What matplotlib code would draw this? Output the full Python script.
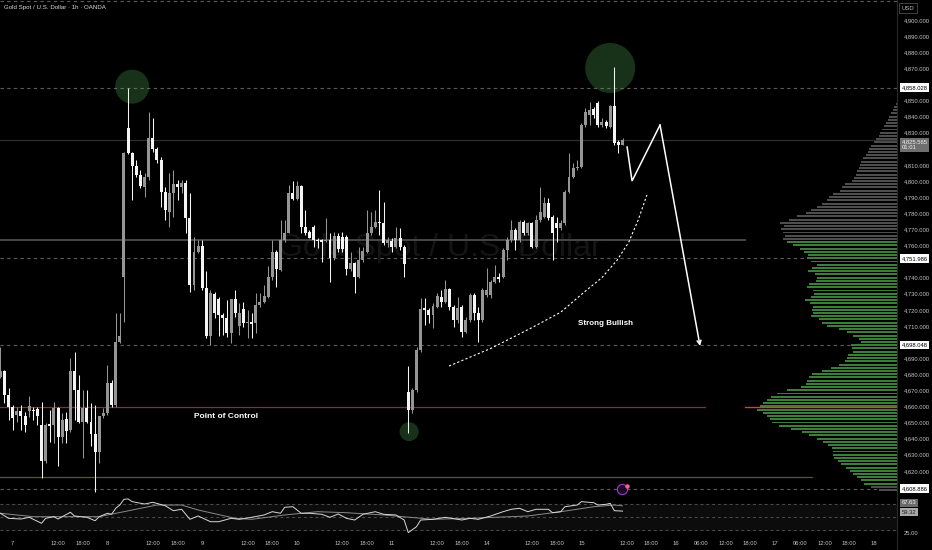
import numpy as np
import matplotlib
matplotlib.use('Agg')
import matplotlib.pyplot as plt
import matplotlib.transforms as mtransforms
from matplotlib.lines import Line2D

plt.rcParams['font.family'] = ['Liberation Sans', 'DejaVu Sans']

# ---------------- data ----------------
first_bar = -3   # bar index of first candle (index 0 = day 7, 00:00)
opens = [
    4678.5, 4681.7, 4667.2, 4659.9, 4654.7, 4657.4, 4654.1, 4657.2, 4657.8, 4658.3,
    4648.5, 4625.8, 4649.2, 4648.5, 4658.9, 4641.3, 4652.1, 4645.4, 4681.7, 4669.9,
    4650.6, 4658.9, 4650.6, 4642.9, 4631.4, 4654.1, 4656.2, 4674.8, 4661.0, 4699.7,
    4740.6, 4832.8, 4817.2, 4809.4, 4803.8, 4796.5, 4802.7, 4826.6, 4819.7, 4813.1,
    4793.4, 4781.0, 4792.4, 4798.2, 4796.5, 4798.6, 4776.9, 4735.5, 4756.2, 4759.7,
    4733.4, 4703.8, 4729.9, 4726.6, 4716.8, 4714.8, 4705.9, 4726.6, 4710.0, 4720.4,
    4711.7, 4712.7, 4711.7, 4723.1, 4725.1, 4728.2, 4740.2, 4756.2, 4744.8, 4763.4,
    4768.0, 4792.4, 4788.7, 4797.0, 4771.3, 4768.6, 4771.7, 4763.4, 4763.4, 4763.0,
    4763.4, 4752.0, 4765.9, 4765.5, 4765.5, 4745.2, 4748.9, 4740.2, 4751.0, 4756.2,
    4767.6, 4771.3, 4774.8, 4774.2, 4761.8, 4763.0, 4758.9, 4764.5, 4759.3, 4669.2,
    4657.8, 4670.3, 4695.1, 4721.0, 4719.9, 4716.8, 4722.0, 4728.2, 4725.1, 4732.8,
    4722.0, 4713.7, 4722.0, 4706.5, 4713.7, 4729.3, 4717.9, 4713.7, 4729.3, 4729.3,
    4737.5, 4740.6, 4740.6, 4757.2, 4763.4, 4769.6, 4763.4, 4774.8, 4767.6, 4773.8,
    4759.3, 4775.8, 4777.9, 4786.2, 4777.9, 4773.8, 4770.7, 4773.8, 4793.4, 4802.7,
    4807.9, 4809.0, 4834.8, 4841.0, 4844.6, 4848.7, 4834.8, 4836.9, 4833.8, 4846.6,
    4824.5, 4822.4]
highs = [
    4697.2, 4682.7, 4671.3, 4661.0, 4659.9, 4661.0, 4656.8, 4666.5, 4659.9, 4659.9,
    4663.0, 4649.6, 4657.8, 4663.0, 4659.9, 4655.8, 4656.8, 4689.9, 4694.1, 4679.6,
    4670.3, 4670.3, 4662.0, 4661.0, 4654.1, 4658.9, 4685.8, 4676.5, 4717.9, 4717.9,
    4818.3, 4857.6, 4818.3, 4813.1, 4806.9, 4804.8, 4843.1, 4839.0, 4821.4, 4815.2,
    4796.5, 4804.8, 4806.9, 4800.7, 4800.7, 4800.7, 4792.4, 4765.5, 4763.4, 4763.4,
    4743.8, 4732.4, 4731.3, 4728.2, 4717.9, 4726.2, 4726.6, 4732.4, 4724.1, 4725.1,
    4719.9, 4717.9, 4730.3, 4730.3, 4735.5, 4746.9, 4763.4, 4757.2, 4775.8, 4775.8,
    4797.6, 4800.3, 4800.3, 4797.6, 4782.0, 4769.6, 4772.7, 4764.5, 4763.8, 4776.9,
    4767.6, 4768.6, 4767.6, 4768.6, 4766.5, 4756.2, 4750.0, 4759.3, 4759.3, 4782.0,
    4781.0, 4782.0, 4794.5, 4787.2, 4765.5, 4764.5, 4771.7, 4770.7, 4760.3, 4684.8,
    4671.3, 4697.2, 4727.2, 4727.2, 4721.0, 4724.1, 4730.3, 4732.4, 4738.6, 4733.4,
    4723.1, 4728.2, 4723.1, 4715.8, 4730.3, 4730.3, 4722.0, 4733.4, 4745.8, 4738.6,
    4747.9, 4742.7, 4758.2, 4765.5, 4775.8, 4770.7, 4775.8, 4775.8, 4774.8, 4774.8,
    4778.9, 4796.5, 4790.3, 4789.3, 4778.9, 4777.9, 4775.8, 4794.5, 4817.2, 4811.0,
    4813.1, 4835.9, 4845.2, 4849.3, 4846.2, 4849.7, 4839.0, 4837.9, 4847.3, 4871.1,
    4825.5, 4826.6]
lows = [
    4677.5, 4662.0, 4651.6, 4645.4, 4650.6, 4645.4, 4644.4, 4653.7, 4651.6, 4648.5,
    4615.4, 4624.7, 4638.2, 4637.1, 4622.7, 4637.1, 4637.1, 4644.4, 4651.6, 4649.6,
    4627.8, 4649.6, 4635.1, 4607.1, 4624.7, 4652.7, 4654.7, 4659.9, 4659.9, 4699.2,
    4712.7, 4816.8, 4788.3, 4802.7, 4795.5, 4790.3, 4800.7, 4818.3, 4811.0, 4784.1,
    4775.8, 4771.7, 4777.9, 4788.3, 4792.4, 4767.6, 4731.3, 4732.4, 4755.1, 4732.4,
    4702.4, 4698.2, 4714.8, 4703.8, 4704.4, 4703.4, 4699.2, 4715.8, 4704.4, 4709.6,
    4702.4, 4702.4, 4705.5, 4722.0, 4724.1, 4727.2, 4738.6, 4734.4, 4743.8, 4762.4,
    4767.6, 4788.3, 4788.3, 4767.6, 4766.5, 4764.5, 4759.3, 4758.2, 4750.0, 4762.4,
    4737.5, 4751.0, 4756.2, 4756.2, 4741.7, 4744.4, 4730.3, 4739.6, 4750.0, 4755.1,
    4766.5, 4770.7, 4766.5, 4760.3, 4759.3, 4756.2, 4758.2, 4757.2, 4740.6, 4643.4,
    4655.8, 4669.2, 4694.1, 4710.6, 4711.7, 4708.6, 4721.0, 4722.0, 4724.1, 4719.9,
    4709.6, 4711.7, 4703.4, 4705.5, 4712.7, 4713.7, 4700.3, 4712.7, 4728.2, 4727.2,
    4736.5, 4737.5, 4739.6, 4751.0, 4762.4, 4757.2, 4762.4, 4766.5, 4766.5, 4758.2,
    4758.2, 4774.8, 4776.9, 4775.8, 4751.0, 4762.4, 4769.6, 4772.7, 4792.4, 4801.7,
    4806.9, 4807.9, 4833.8, 4834.8, 4839.0, 4833.8, 4833.8, 4832.8, 4832.8, 4822.4,
    4817.2, 4822.4]
closes = [
    4681.7, 4667.2, 4659.9, 4652.7, 4657.4, 4654.1, 4648.5, 4660.5, 4657.2, 4654.1,
    4625.8, 4648.5, 4647.9, 4658.9, 4641.3, 4651.6, 4645.0, 4681.7, 4670.3, 4650.6,
    4658.9, 4650.6, 4642.9, 4631.4, 4654.1, 4656.2, 4674.8, 4661.0, 4699.7, 4703.8,
    4817.2, 4817.7, 4809.4, 4803.8, 4797.0, 4802.7, 4826.6, 4819.7, 4813.1, 4793.4,
    4782.0, 4792.4, 4798.2, 4796.5, 4798.6, 4776.9, 4735.5, 4756.2, 4759.7, 4733.4,
    4703.8, 4730.3, 4717.9, 4716.8, 4714.8, 4705.9, 4726.6, 4717.9, 4718.3, 4711.7,
    4712.7, 4711.3, 4723.1, 4725.1, 4728.6, 4740.2, 4756.2, 4745.2, 4763.4, 4768.0,
    4792.4, 4788.7, 4797.0, 4771.3, 4767.6, 4764.5, 4763.4, 4762.8, 4762.4, 4763.4,
    4752.0, 4765.9, 4757.6, 4757.6, 4745.2, 4748.9, 4740.2, 4751.0, 4756.6, 4767.6,
    4771.3, 4774.8, 4773.8, 4761.3, 4763.4, 4758.9, 4764.5, 4758.9, 4748.5, 4657.8,
    4670.3, 4695.1, 4720.4, 4719.9, 4716.8, 4722.4, 4728.6, 4725.1, 4732.8, 4722.0,
    4713.7, 4721.0, 4706.5, 4713.7, 4729.3, 4717.9, 4713.7, 4732.4, 4732.4, 4737.5,
    4740.6, 4739.0, 4757.2, 4763.4, 4769.6, 4763.4, 4774.8, 4767.6, 4773.8, 4759.3,
    4775.8, 4781.0, 4786.2, 4776.9, 4767.6, 4770.7, 4773.8, 4793.4, 4802.7, 4807.9,
    4809.0, 4834.8, 4843.1, 4844.1, 4841.0, 4834.8, 4836.9, 4834.2, 4846.6, 4823.4,
    4822.4, 4825.5]

rsi_idx = [-3, -1, 2, 4, 7, 8, 10, 11, 14, 15, 18, 20, 21, 23, 24, 25, 26, 27, 28, 29,
           32, 34, 37, 39, 41, 43, 45, 48, 50, 53, 55, 58, 61, 63, 65, 66, 68, 70, 72, 75,
           77, 79, 81, 83, 85, 88, 90, 93, 95, 96, 98, 99, 102, 105, 109, 111, 113, 116, 119, 121,
           123, 125, 127, 130, 131, 133, 134, 137, 138, 141, 142, 144, 145, 146, 148]
rsi_val = [55.9, 47.9, 46.8, 49.5, 40.0, 47.9, 50.5, 46.8, 57.5, 51.6, 49.5, 44.1, 50.5, 55.9, 54.3, 63.8, 69.0, 78.1, 78.6, 74.3,
           70.6, 73.3, 67.9, 60.0, 62.2, 46.3, 51.6, 42.5, 42.5, 47.9, 46.3, 49.5, 53.2, 58.4, 55.9, 65.4, 66.3, 55.9, 55.9, 54.3,
           49.5, 54.8, 47.9, 45.2, 54.3, 58.4, 54.3, 53.2, 45.2, 25.1, 34.6, 45.2, 46.3, 49.5, 45.2, 47.9, 46.3, 51.6, 58.4, 62.2,
           63.8, 58.4, 62.2, 62.2, 56.8, 58.4, 66.3, 69.0, 74.3, 72.7, 69.0, 70.1, 71.7, 60.0, 59.32]
rsi_ma_idx = [-3, 5, 21, 35, 41, 45, 54, 58, 66, 74, 81, 90, 102, 111, 117, 125, 133, 141, 146, 148]
rsi_ma_val = [55.9, 50.5, 50.5, 69.0, 69.0, 61.1, 47.9, 46.3, 53.2, 58.4, 56.8, 53.2, 46.3, 47.9, 49.5, 51.6, 58.4, 66.3, 69.0, 67.63]

# volume profile (row price -> relative volume)
vp_prices = list(range(4848, 4606, -2))
vp_volume = [
    1, 3, 4, 6, 8, 9, 11, 13, 15, 17,
    18, 21, 23, 26, 28, 29, 31, 34, 36, 37,
    38, 40, 41, 43, 45, 52, 55, 57, 64, 68,
    70, 75, 80, 86, 91, 100, 108, 117, 113, 116,
    114, 112, 114, 110, 104, 97, 93, 89, 90, 86,
    80, 85, 89, 82, 80, 81, 88, 90, 84, 83,
    86, 92, 87, 84, 85, 84, 86, 78, 75, 70,
    58, 50, 44, 38, 36, 46, 45, 44, 49, 50,
    52, 58, 66, 75, 85, 88, 90, 91, 96, 110,
    120, 126, 130, 134, 137, 140, 134, 130, 127, 125,
    118, 106, 95, 88, 80, 74, 69, 65, 64, 64,
    63, 59, 56, 51, 47, 44, 40, 36, 33, 26,
    18]
value_area = (4612, 4762)

# horizontal levels
dashed_levels = [4911.8, 4858.028, 4751.986, 4698.048, 4608.886]
last_price = 4825.565
range_high = 4763.4
poc_price = 4659.4
support_low = 4616.4

# projection drawing and arc (bar index, price)
proj_x = [149.1, 150.3, 157.1, 166.8]
proj_y = [4821.1, 4800.0, 4834.8, 4697.5]
arc_x = [105.9, 116.0, 126.3, 133.0, 138.4, 143.0, 146.7, 149.5, 151.8, 153.9]
arc_y = [4685.1, 4696.0, 4709.3, 4718.5, 4730.4, 4740.0, 4750.9, 4762.0, 4775.8, 4791.3]
circle_x = [29.0, 145.0, 96.2]
circle_y = [4858.6, 4870.2, 4644.3]
circle_diam_px = [34, 50, 19]

x_ticks = [0, 11, 17, 23, 34, 40, 46, 57, 63, 69, 80, 86, 92, 103, 109, 115, 126, 132,
           138, 149, 155, 161, 167, 173, 179, 185, 191, 197, 203, 209]
x_labels = ['7', '12:00', '18:00', '8', '12:00', '18:00', '9', '12:00', '18:00', '10',
            '12:00', '18:00', '11', '12:00', '18:00', '14', '12:00', '18:00', '15', '12:00',
            '18:00', '16', '06:00', '12:00', '18:00', '17', '06:00', '12:00', '18:00', '18']
price_ticks = [4900, 4890, 4880, 4870, 4850, 4840, 4830, 4810, 4800, 4790, 4780, 4770,
               4760, 4740, 4730, 4720, 4710, 4690, 4680, 4670, 4660, 4650, 4640, 4630, 4620]

# ---------------- figure ----------------
W, H = 932, 550
fig = plt.figure(figsize=(W / 100, H / 100), dpi=100, facecolor='black')
axr = 897 / W
ax = fig.add_axes([0, 1 - 496 / H, axr, 496 / H], facecolor='black')
rx = fig.add_axes([0, 1 - 537 / H, axr, 41 / H], facecolor='black')
XLIM = (-3.08, 214.6)
ax.set_xlim(*XLIM)
ax.set_ylim(4604.35, 4912.42)
rx.set_xlim(*XLIM)
rx.set_ylim(18.25, 83.3)
for a in (ax, rx):
    for s in a.spines.values():
        s.set_visible(False)

TXT = '#c4c4c4'

# watermark
ax.text(103.7, 4758.4, 'Gold Spot / U.S. Dollar', fontsize=23, color='#141414',
        ha='center', va='center', zorder=0)

# levels
for lv in dashed_levels:
    ax.axhline(lv, color='#5c5c5c', lw=0.8, ls=(0, (3, 3)), zorder=1)
ax.axhline(last_price, color='#2e2e2e', lw=0.9, zorder=1)
ax.plot([XLIM[0], 177.7], [range_high, range_high], color='#474747', lw=1.4, zorder=1)
ax.plot([XLIM[0], 168.0], [poc_price, poc_price], color='#8e2a35', lw=0.9, zorder=1)
ax.plot([XLIM[0], 194.0], [support_low, support_low], color='#2f6a31', lw=0.9, zorder=1)

# volume profile
vmax = max(vp_volume)
full_w = 34.0
vp_w = [v / vmax * full_w for v in vp_volume]
vp_col = ['#3c7d3a' if value_area[0] <= p <= value_area[1] else '#4d4d4d' for p in vp_prices]
ax.barh(vp_prices, vp_w, left=[XLIM[1] - w for w in vp_w], height=1.2, color=vp_col,
        zorder=2, linewidth=0)
ax.plot([177.7, XLIM[1]], [poc_price, poc_price], color='#e0393e', lw=1.0, zorder=3)

# circles
for cx, cy, d in zip(circle_x, circle_y, circle_diam_px):
    ax.scatter([cx], [cy], s=(d * 0.72) ** 2, color=(0.30, 0.66, 0.32, 0.30),
               edgecolors='none', zorder=2)

# candles
idx = np.arange(first_bar, first_bar + len(opens))
UP, DN = '#959595', '#f4f4f4'
for i, o, h, l, c in zip(idx, opens, highs, lows, closes):
    col = UP if c >= o else DN
    ax.vlines(i, l, h, color=col, lw=0.75, zorder=4)
    body = max(abs(c - o), 0.6)
    ax.bar(i, body, bottom=min(o, c), width=0.72, color=col, linewidth=0, zorder=5)

# arc and projection
ax.plot(arc_x, arc_y, color='white', lw=0.8, ls=(0, (2, 2)), zorder=6)
ax.plot(proj_x[:-1], proj_y[:-1], color='white', lw=1.1, zorder=6, solid_joinstyle='miter')
ax.annotate('', xy=(proj_x[-1], proj_y[-1]), xytext=(proj_x[-2], proj_y[-2]),
            arrowprops=dict(arrowstyle='->', color='white', lw=1.1, mutation_scale=7,
                            shrinkA=0, shrinkB=0), zorder=6)

ax.text(51.8, 4653.6, 'Point of Control', color='white', fontsize=6, fontweight='bold',
        ha='center', va='center', zorder=7)
ax.text(143.8, 4711.2, 'Strong Bullish', color='white', fontsize=5.8, fontweight='bold',
        ha='center', va='center', zorder=7)

# event icon
ax.scatter([147.9], [4608.9], s=55, facecolor='#1c0a24', edgecolors='#a334d0', lw=0.8, zorder=7)
ax.scatter([149.0], [4610.6], s=5, color='#f06090', zorder=8)

# price axis
ax.yaxis.tick_right()
ax.set_yticks(price_ticks)
ax.set_yticklabels([f'{p:,.3f}' for p in price_ticks])
ax.tick_params(axis='y', length=0, pad=5, labelsize=4.2, colors=TXT)
ax.set_xticks([])

trans = mtransforms.blended_transform_factory(ax.transAxes, ax.transData)
for lv in dashed_levels[1:]:
    ax.text(1.005, lv, f'{lv:,.3f}', transform=trans, fontsize=4.2, color='black',
            ha='left', va='center', clip_on=False, zorder=10,
            bbox=dict(boxstyle='square,pad=0.3', fc='white', ec='none'))
ax.text(1.005, last_price, f'{last_price:,.3f}\n01:01', fontsize=4.2, color='#f0f0f0',
        ha='left', va='center', clip_on=False, zorder=10, linespacing=1.1,
        transform=mtransforms.offset_copy(trans, fig=fig, y=-5, units='dots'),
        bbox=dict(boxstyle='square,pad=0.3', fc='#6f6f6f', ec='none'))

# RSI pane
rx.axhspan(30, 70, color='#0c0c0c', zorder=0)
for lv in (70, 50, 30):
    rx.axhline(lv, color='#4e4e4e', lw=0.7, ls=(0, (3, 3)), zorder=1)
rx.plot(rsi_ma_idx, rsi_ma_val, color='#8a8a8a', lw=0.7, zorder=2)
rx.plot(rsi_idx, rsi_val, color='#d8d8d8', lw=0.7, zorder=3)
rx.yaxis.tick_right()
rx.set_yticks([25])
rx.set_yticklabels(['25.00'])
rx.tick_params(axis='y', length=0, pad=5, labelsize=4.2, colors=TXT)
rtrans = mtransforms.blended_transform_factory(rx.transAxes, rx.transData)
rx.text(1.005, rsi_ma_val[-1], f'{rsi_ma_val[-1]:.2f}', fontsize=4.2, color='#f0f0f0',
        ha='left', va='center', clip_on=False, zorder=10,
        transform=mtransforms.offset_copy(rtrans, fig=fig, y=3, units='dots'),
        bbox=dict(boxstyle='square,pad=0.25', fc='#6a6a6a', ec='none'))
rx.text(1.005, rsi_val[-1], f'{rsi_val[-1]:.2f}', fontsize=4.2, color='#202020',
        ha='left', va='center', clip_on=False, zorder=10,
        transform=mtransforms.offset_copy(rtrans, fig=fig, y=-1, units='dots'),
        bbox=dict(boxstyle='square,pad=0.25', fc='#a8a8a8', ec='none'))

rx.set_xticks(x_ticks)
rx.set_xticklabels(x_labels)
rx.tick_params(axis='x', length=0, pad=3, labelsize=4.2, colors=TXT)

# frame / header
fig.add_artist(Line2D([axr, axr], [0, 1], transform=fig.transFigure, color='#2a2a2a', lw=0.8))
fig.text(4 / W, 1 - 7 / H, 'Gold Spot / U.S. Dollar · 1h · OANDA', fontsize=4.4,
         color='#dcdcdc', ha='left', va='center')
fig.text(908 / W, 1 - 8 / H, 'USD', fontsize=4.2, color=TXT, ha='center', va='center',
         bbox=dict(boxstyle='square,pad=0.5', fc='black', ec='#4a4a4a', lw=0.6))

fig.savefig('out.png', dpi=100, facecolor='black')
